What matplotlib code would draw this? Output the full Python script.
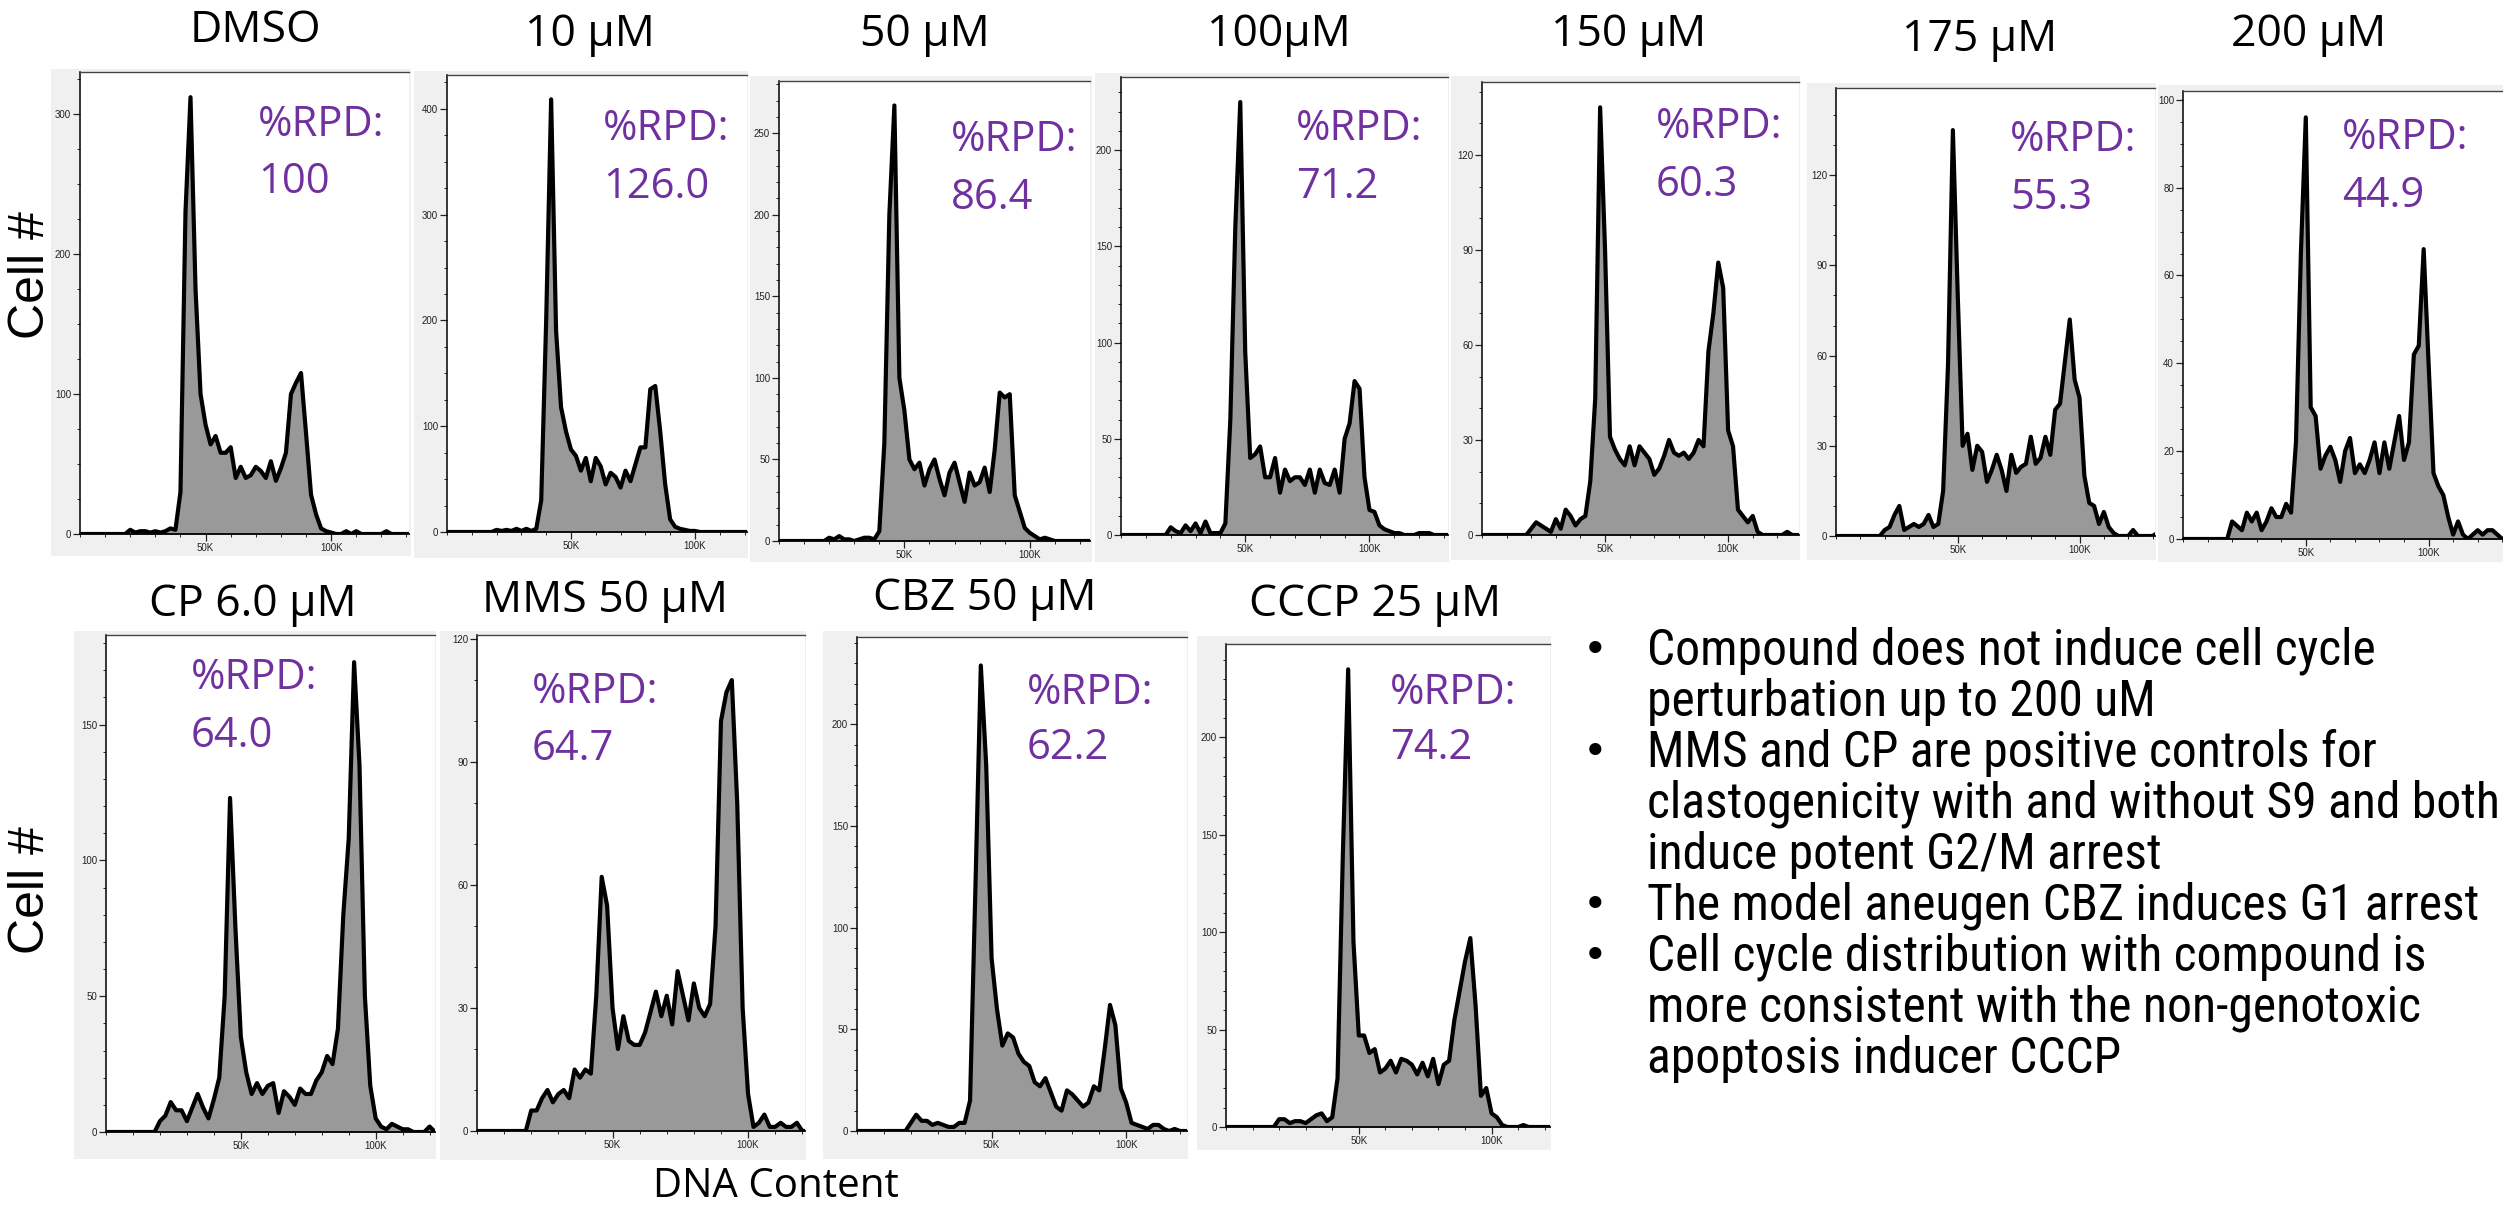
import numpy as np
import matplotlib
matplotlib.use("Agg")
import matplotlib.pyplot as plt
from matplotlib.patches import Rectangle
from matplotlib.ticker import MultipleLocator, FixedLocator, FuncFormatter
from matplotlib import font_manager

W, H = 2503, 1211

titles = ["DMSO", "10 µM", "50 µM", "100µM", "150 µM", "175 µM", "200 µM",
          "CP 6.0 µM", "MMS 50 µM", "CBZ 50 µM", "CCCP 25 µM"]
rpd = ["100", "126.0", "86.4", "71.2", "60.3", "55.3", "44.9",
       "64.0", "64.7", "62.2", "74.2"]

# histogram counts, one value per 2K bin of DNA content starting at 0K
bin_k = 2
dmso = [0, 0, 0, 0, 0, 0, 0, 0, 0, 0,
        3, 1, 2, 2, 1, 2, 1, 2, 4, 3,
        30, 230, 312, 175, 100, 78, 64, 70, 58, 58,
        62, 40, 48, 40, 42, 48, 45, 40, 52, 38,
        47, 58, 100, 108, 115, 72, 28, 14, 4, 2,
        1, 0, 0, 2, 0, 2, 0, 0, 0, 0,
        0, 2, 0, 0, 0, 0, 0]
um10 = [0, 0, 0, 0, 0, 0, 0, 0, 0, 0,
        2, 1, 2, 1, 3, 1, 3, 1, 3, 30,
        200, 409, 190, 118, 95, 78, 72, 58, 70, 48,
        70, 62, 45, 56, 52, 42, 58, 48, 64, 80,
        80, 135, 138, 95, 45, 12, 5, 3, 2, 1,
        1, 0, 0, 0, 0, 0, 0, 0, 0, 0,
        0, 0, 0, 0, 0, 0, 0]
um50 = [0, 0, 0, 0, 0, 0, 0, 0, 0, 0,
        2, 1, 3, 1, 1, 0, 1, 2, 2, 1,
        6, 60, 200, 267, 100, 80, 50, 44, 48, 34,
        44, 50, 38, 28, 42, 48, 36, 24, 42, 34,
        36, 45, 30, 56, 91, 88, 90, 28, 18, 8,
        5, 3, 1, 2, 1, 0, 0, 0, 0, 0,
        0, 0, 0, 0, 0, 0, 0]
um100 = [0, 0, 0, 0, 0, 0, 0, 0, 0, 0,
         4, 2, 1, 5, 2, 6, 1, 7, 1, 1,
         1, 6, 60, 160, 225, 95, 40, 42, 46, 30,
         30, 40, 22, 34, 28, 30, 30, 26, 34, 22,
         34, 27, 26, 34, 22, 50, 58, 80, 76, 30,
         13, 12, 5, 3, 2, 1, 1, 0, 0, 0,
         1, 1, 1, 0, 0, 0, 0]
um150 = [0, 0, 0, 0, 0, 0, 0, 0, 0, 0,
         2, 4, 3, 2, 1, 5, 2, 8, 6, 3,
         5, 6, 17, 43, 135, 90, 31, 27, 24, 22,
         28, 22, 28, 26, 24, 19, 21, 25, 30, 26,
         25, 26, 24, 26, 30, 28, 58, 70, 86, 78,
         33, 28, 8, 6, 4, 6, 1, 0, 0, 0,
         0, 0, 1, 0, 0, 0, 0]
um175 = [0, 0, 0, 0, 0, 0, 0, 0, 0, 0,
         2, 3, 7, 10, 2, 3, 4, 3, 4, 7,
         3, 4, 15, 57, 135, 80, 30, 34, 22, 30,
         28, 18, 22, 27, 22, 15, 27, 21, 23, 24,
         33, 24, 26, 33, 27, 42, 44, 58, 72, 52,
         46, 20, 11, 10, 4, 8, 3, 1, 0, 0,
         0, 2, 0, 0, 0, 0, 1]
um200 = [0, 0, 0, 0, 0, 0, 0, 0, 0, 0,
         4, 3, 2, 6, 4, 6, 2, 4, 7, 5,
         5, 8, 6, 22, 65, 96, 30, 28, 16, 19,
         21, 18, 13, 20, 23, 15, 17, 15, 18, 22,
         15, 22, 16, 22, 28, 18, 22, 42, 44, 66,
         40, 15, 12, 10, 5, 1, 4, 1, 0, 1,
         2, 1, 2, 2, 1, 0, 0]
cp = [0, 0, 0, 0, 0, 0, 0, 0, 0, 0,
      4, 6, 11, 8, 8, 4, 9, 14, 9, 5,
      12, 20, 50, 123, 75, 35, 22, 14, 18, 14,
      17, 18, 7, 15, 13, 10, 16, 14, 14, 19,
      22, 28, 25, 38, 80, 108, 173, 135, 50, 17,
      5, 2, 1, 3, 2, 1, 1, 0, 0, 0,
      2, 0, 0, 0, 0, 0, 0]
mms = [0, 0, 0, 0, 0, 0, 0, 0, 0, 0,
       5, 5, 8, 10, 7, 9, 10, 8, 15, 13,
       15, 14, 33, 62, 55, 30, 20, 28, 22, 21,
       21, 24, 29, 34, 28, 33, 26, 39, 33, 27,
       36, 30, 28, 31, 50, 100, 107, 110, 80, 30,
       9, 1, 2, 4, 1, 1, 2, 1, 1, 2,
       0, 0, 0, 0, 0, 0, 0]
cbz = [0, 0, 0, 0, 0, 0, 0, 0, 0, 0,
       4, 8, 5, 5, 3, 4, 3, 2, 2, 4,
       4, 15, 120, 229, 180, 85, 60, 42, 48, 46,
       38, 34, 32, 24, 22, 26, 19, 12, 10, 20,
       18, 15, 12, 14, 22, 20, 40, 62, 52, 21,
       14, 4, 3, 2, 1, 3, 3, 1, 0, 1,
       0, 0, 0, 0, 0, 0, 0]
cccp = [0, 0, 0, 0, 0, 0, 0, 0, 0, 0,
        4, 4, 2, 3, 3, 2, 4, 6, 7, 3,
        5, 25, 140, 235, 95, 47, 47, 38, 40, 28,
        30, 34, 28, 35, 34, 32, 27, 33, 26, 35,
        22, 32, 34, 55, 70, 85, 97, 62, 16, 20,
        7, 5, 1, 0, 0, 0, 1, 0, 0, 0,
        0, 0, 0, 0, 0, 0, 0]
counts = [dmso, um10, um50, um100, um150, um175, um200, cp, mms, cbz, cccp]

# axis ranges per panel: ymax, major step, minor step, xmax (K)
ymax = [330, 432, 282, 238, 143, 149, 102, 183, 121, 243, 248]
ymajor = [100, 100, 50, 50, 30, 30, 20, 50, 30, 50, 50]
yminor = [25, 25, 10, 10, 10, 10, 5, 10, 10, 10, 10]
xmax = [131, 121, 124, 131.6, 128.8, 131, 130.3, 122, 121, 122.6, 122]

notes = [(True, "Compound does not induce cell cycle"),
         (False, "perturbation up to 200 uM"),
         (True, "MMS and CP are positive controls for"),
         (False, "clastogenicity with and without S9 and both"),
         (False, "induce potent G2/M arrest"),
         (True, "The model aneugen CBZ induces G1 arrest"),
         (True, "Cell cycle distribution with compound is"),
         (False, "more consistent with the non-genotoxic"),
         (False, "apoptosis inducer CCCP")]

# layout in pixels: gray frame, plot box, title centre, rpd text (x, y1, y2)
gray = [(51, 69, 411, 556), (414, 71, 748, 558), (750, 76, 1092, 562),
        (1095, 73, 1449, 562), (1451, 76, 1800, 560), (1807, 83, 2156, 560),
        (2158, 85, 2503, 562),
        (74, 631, 436, 1159), (440, 631, 806, 1160), (823, 631, 1188, 1159),
        (1197, 636, 1551, 1150)]
plot_box = [(80, 72, 409, 534), (447, 75, 747, 532), (779, 81, 1090, 541),
            (1121, 77, 1448, 535), (1482, 82, 1799, 535), (1836, 88, 2155, 536),
            (2183, 91, 2503, 539),
            (106, 635, 435, 1132), (477, 635, 805, 1131), (857, 637, 1187, 1131),
            (1226, 644, 1550, 1127)]
title_pos = [(255, 31), (590, 35), (925, 35), (1279, 35), (1629, 35), (1980, 40),
             (2309, 35), (253, 605), (605, 601), (985, 599), (1375, 605)]
rpd_pos = [(258, 125, 182), (603, 129, 187), (951, 140, 198), (1296, 129, 187),
           (1656, 127, 185), (2010, 140, 198), (2342, 138, 196),
           (191, 678, 736), (532, 692, 749), (1027, 693, 748), (1390, 693, 748)]

purple = "#7030A0"
names = {f.name for f in font_manager.fontManager.ttflist}
narrow = next((n for n in ["Liberation Sans Narrow", "Roboto Condensed",
                           "Open Sans Condensed"] if n in names), "Open Sans")


def fx(x):
    return x / W


def fy(y):
    return 1 - y / H


fig = plt.figure(figsize=(W / 100, H / 100), dpi=100)
fig.patch.set_facecolor("white")

for i in range(len(counts)):
    g = gray[i]
    fig.patches.append(Rectangle((fx(g[0]), fy(g[3])), (g[2] - g[0]) / W,
                                 (g[3] - g[1]) / H, transform=fig.transFigure,
                                 facecolor="#f0f0f0", edgecolor="none", zorder=-5))
    p = plot_box[i]
    ax = fig.add_axes([fx(p[0]), fy(p[3]), (p[2] - p[0]) / W, (p[3] - p[1]) / H])
    ax.set_zorder(2)
    ax.set_facecolor("white")
    y = np.array(counts[i], dtype=float)
    x = np.arange(len(y)) * bin_k * 1000
    ax.fill_between(x, y, color="#999999", lw=0)
    ax.plot(x, y, color="black", lw=3.0)
    ax.set_xlim(0, xmax[i] * 1000)
    ax.set_ylim(0, ymax[i])

    ax.xaxis.set_major_locator(FixedLocator([50000, 100000]))
    ax.xaxis.set_minor_locator(MultipleLocator(10000))
    ax.xaxis.set_major_formatter(FuncFormatter(lambda v, pos: "%dK" % (v / 1000)))
    ax.yaxis.set_major_locator(MultipleLocator(ymajor[i]))
    ax.yaxis.set_minor_locator(MultipleLocator(yminor[i]))
    ax.tick_params(which="major", direction="out", length=5, width=0.9,
                   labelsize=7, pad=1.5, colors="#222222")
    ax.tick_params(which="minor", direction="out", length=2.5, width=0.7,
                   colors="#222222")
    for lab in ax.get_xticklabels() + ax.get_yticklabels():
        lab.set_family("Liberation Sans")
    ax.spines["right"].set_visible(False)
    ax.spines["left"].set_linewidth(1.1)
    ax.spines["bottom"].set_linewidth(1.3)
    ax.spines["top"].set_linewidth(1.0)
    ax.spines["top"].set_color("#444444")

    tx, ty = title_pos[i]
    fig.text(fx(tx), fy(ty), titles[i], ha="center", va="center",
             fontsize=32, family="Open Sans", color="black")
    rx, ry1, ry2 = rpd_pos[i]
    fig.text(fx(rx), fy(ry1), "%RPD:", ha="left", va="center", zorder=5,
             fontsize=30, family="Open Sans", color=purple)
    fig.text(fx(rx), fy(ry2), rpd[i], ha="left", va="center", zorder=5,
             fontsize=30, family="Open Sans", color=purple)

fig.text(fx(31), fy(275), "Cell #", rotation=90, ha="center", va="center",
         fontsize=36, family="Liberation Sans")
fig.text(fx(31), fy(890), "Cell #", rotation=90, ha="center", va="center",
         fontsize=36, family="Liberation Sans")
fig.text(fx(776), fy(1187), "DNA Content", ha="center", va="center",
         fontsize=29, family="Open Sans")

# bullet list, sized so the longest line fits the space on the right
note_texts = []
for k, (bullet, line) in enumerate(notes):
    yy = 651 + k * 51
    if bullet:
        fig.text(fx(1595), fy(yy), "•", ha="center", va="center",
                 fontsize=30, family="DejaVu Sans")
    note_texts.append(fig.text(fx(1647), fy(yy), line, ha="left", va="center",
                               fontsize=30, family=narrow))
fig.canvas.draw()
r = fig.canvas.get_renderer()
widest = max(t.get_window_extent(r).width for t in note_texts)
for t in note_texts:
    t.set_fontsize(30 * 852 / widest)

fig.savefig("out.png", dpi=100, facecolor="white")
